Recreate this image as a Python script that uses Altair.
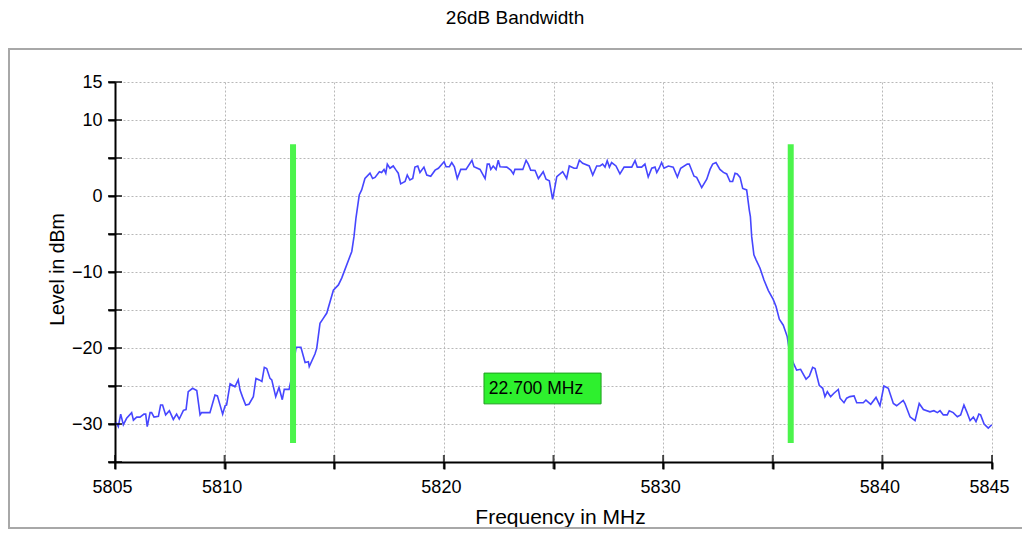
import altair as alt
import pandas as pd

# ---- data ----
freq_mhz = [
    5805.05, 5805.15, 5805.26, 5805.38, 5805.53, 5805.76, 5805.84, 5805.99, 5806.14, 5806.32,
    5806.40, 5806.47, 5806.60, 5806.67, 5806.78, 5806.98, 5807.08, 5807.17, 5807.31, 5807.48,
    5807.66, 5807.81, 5807.93, 5808.12, 5808.24, 5808.34, 5808.54, 5808.73, 5808.88, 5808.95,
    5809.33, 5809.56, 5809.67, 5809.91, 5810.02, 5810.09, 5810.25, 5810.47, 5810.62, 5810.70,
    5810.81, 5810.96, 5811.11, 5811.31, 5811.43, 5811.58, 5811.70, 5811.81, 5811.92, 5812.07,
    5812.15, 5812.33, 5812.48, 5812.63, 5812.72, 5812.94, 5813.06, 5813.26, 5813.48, 5813.67,
    5813.82, 5813.86, 5814.12, 5814.20, 5814.35, 5814.50, 5814.66, 5814.96, 5815.19, 5815.34,
    5815.80, 5815.90, 5815.99, 5816.14, 5816.25, 5816.40, 5816.63, 5816.75, 5816.86, 5817.06,
    5817.16, 5817.27, 5817.35, 5817.42, 5817.54, 5817.69, 5817.82, 5817.92, 5818.03, 5818.23,
    5818.33, 5818.45, 5818.58, 5818.68, 5818.81, 5818.91, 5819.09, 5819.22, 5819.40, 5819.60,
    5819.75, 5820.01, 5820.10, 5820.25, 5820.36, 5820.48, 5820.61, 5820.77, 5821.01, 5821.28,
    5821.37, 5821.65, 5821.88, 5821.98, 5822.07, 5822.14, 5822.25, 5822.38, 5822.48, 5822.56,
    5822.87, 5823.05, 5823.17, 5823.24, 5823.60, 5823.75, 5823.85, 5823.96, 5824.16, 5824.31,
    5824.53, 5824.66, 5824.81, 5824.96, 5825.15, 5825.30, 5825.42, 5825.60, 5825.72, 5825.94,
    5826.06, 5826.18, 5826.33, 5826.63, 5826.79, 5826.97, 5827.12, 5827.24, 5827.35, 5827.45,
    5827.55, 5827.65, 5827.85, 5828.03, 5828.22, 5828.57, 5828.72, 5828.82, 5829.02, 5829.17,
    5829.32, 5829.48, 5829.63, 5829.71, 5829.82, 5829.93, 5830.04, 5830.24, 5830.46, 5830.65,
    5830.80, 5831.10, 5831.19, 5831.41, 5831.53, 5831.76, 5831.99, 5832.14, 5832.26, 5832.41,
    5832.59, 5832.75, 5832.90, 5833.05, 5833.17, 5833.28, 5833.38, 5833.51, 5833.63, 5833.81,
    5833.93, 5833.98, 5834.04, 5834.14, 5834.24, 5834.42, 5834.60, 5834.80, 5835.02, 5835.15,
    5835.30, 5835.48, 5835.66, 5835.75, 5835.94, 5836.09, 5836.27, 5836.52, 5836.67, 5836.82,
    5836.93, 5837.12, 5837.28, 5837.38, 5837.49, 5837.64, 5837.79, 5837.99, 5838.07, 5838.25,
    5838.37, 5838.52, 5838.71, 5838.83, 5839.13, 5839.25, 5839.47, 5839.71, 5839.89, 5840.07,
    5840.27, 5840.50, 5840.65, 5840.95, 5841.03, 5841.26, 5841.49, 5841.68, 5841.87, 5842.17,
    5842.35, 5842.51, 5842.63, 5842.78, 5842.96, 5843.05, 5843.23, 5843.42, 5843.57, 5843.72,
    5843.85, 5844.00, 5844.15, 5844.27, 5844.40, 5844.48, 5844.64, 5844.83, 5844.99,
]
level_dbm = [
    -29.8, -30.35, -28.7, -30.1, -29.25, -28.5, -29.5, -29.1, -29.1, -28.7,
    -28.7, -30.35, -28.5, -28.5, -29.1, -29.0, -27.5, -27.5, -28.8, -28.25,
    -29.4, -28.7, -29.35, -28.2, -28.1, -25.75, -25.3, -25.6, -28.8, -28.5,
    -28.5, -26.2, -26.3, -28.7, -27.6, -27.5, -24.7, -25.1, -24.2, -25.5,
    -26.4, -27.5, -27.4, -26.4, -24.0, -24.2, -24.4, -22.55, -22.7, -24.0,
    -24.2, -26.4, -25.2, -26.8, -25.45, -25.45, -23.8, -19.9, -19.9, -21.9,
    -21.8, -22.45, -20.8, -20.05, -16.75, -16.1, -15.4, -12.4, -11.7, -10.8,
    -7.3, -5.35, -2.9, 0.13, 0.8, 2.3, 3.0, 2.3, 2.45, 3.2,
    3.1, 3.5, 3.0, 4.2, 3.65, 3.95, 3.4, 3.0, 1.6, 1.9,
    2.75, 2.1, 2.3, 3.8, 3.95, 3.1, 3.8, 2.75, 2.6, 3.4,
    3.65, 4.5, 3.85, 3.85, 4.4, 3.85, 2.3, 3.5, 3.5, 4.7,
    3.85, 3.5, 2.3, 4.2, 4.2, 3.5, 3.95, 3.5, 4.7, 3.85,
    3.8, 3.4, 2.9, 3.5, 3.5, 4.7, 4.2, 3.4, 3.35, 2.3,
    3.2, 2.2, 2.0, -0.45, 2.55, 2.9, 3.2, 2.3, 3.95, 3.65,
    3.65, 4.7, 4.3, 3.95, 2.75, 3.95, 3.95, 4.2, 3.8, 4.65,
    3.8, 4.4, 3.95, 2.9, 3.8, 3.8, 4.65, 3.8, 3.8, 4.2,
    2.5, 3.65, 3.8, 3.1, 3.65, 4.4, 3.65, 3.95, 3.8, 2.5,
    3.65, 4.2, 4.2, 2.6, 2.45, 1.1, 2.2, 3.5, 4.2, 4.4,
    3.5, 3.1, 2.9, 1.9, 1.9, 3.0, 2.9, 2.45, 1.0, 0.8,
    -1.85, -2.7, -5.35, -7.75, -8.4, -9.5, -11.05, -12.45, -13.6, -14.55,
    -16.2, -17.0, -18.5, -20.25, -22.0, -22.9, -22.8, -24.1, -23.7, -22.55,
    -22.7, -24.9, -25.3, -26.4, -25.75, -26.4, -25.95, -25.45, -26.6, -27.2,
    -26.6, -26.4, -26.3, -27.2, -27.2, -26.85, -27.4, -26.5, -27.6, -25.0,
    -25.3, -27.3, -27.6, -26.9, -27.3, -29.05, -29.55, -27.3, -28.1, -28.4,
    -28.25, -28.5, -28.25, -28.8, -28.8, -28.25, -28.5, -29.05, -28.8, -27.5,
    -28.4, -29.55, -29.1, -29.7, -28.7, -28.8, -30.0, -30.55, -30.1,
]

marker_freqs = [5813.12, 5835.82]
marker_top = [6.8, 6.8]
marker_bottom = [-32.5, -32.5]

bandwidth_text = ["22.700 MHz"]
label_box_f = [5821.83]
label_box_f2 = [5827.17]
label_box_top = [-23.3]
label_box_bottom = [-27.35]
label_text_f = [5822.05]
label_text_level = [-25.33]

x_tick_values = [5805, 5810, 5815, 5820, 5825, 5830, 5835, 5840, 5845]
x_label_values = [5805, 5810, 5820, 5830, 5840, 5845]
y_tick_values = [15, 10, 5, 0, -5, -10, -15, -20, -25, -30, -35]
y_label_values = [15, 10, 0, -10, -20, -30]

title_text = "26dB Bandwidth"
x_title = "Frequency in MHz"
y_title = "Level in dBm"

# ---- layout ----
W, H = 877, 380
FONT = "Liberation Sans, Arial, sans-serif"

trace = pd.DataFrame({"f": freq_mhz, "L": level_dbm})
markers = pd.DataFrame({"f": marker_freqs, "top": marker_top, "bot": marker_bottom})
box = pd.DataFrame({"f": label_box_f, "f2": label_box_f2, "t": label_box_top, "b": label_box_bottom})
lbl = pd.DataFrame({"f": label_text_f, "L": label_text_level, "txt": bandwidth_text})
xt = pd.DataFrame({"f": x_tick_values})
yt = pd.DataFrame({"L": y_tick_values})

x_scale = alt.Scale(domain=[5805, 5845], nice=False, zero=False)
y_scale = alt.Scale(domain=[-35, 15], nice=False, zero=False)

x_expr = "indexof([" + ",".join(str(v) for v in x_label_values) + "], datum.value) >= 0 ? datum.label : ''"
y_expr = "indexof([" + ",".join(str(v) for v in y_label_values) + "], datum.value) >= 0 ? datum.label : ''"

x_axis = alt.Axis(
    values=x_tick_values, labelExpr=x_expr, format="d", title=x_title,
    grid=True, gridColor="#b8b8b8", gridDash=[2, 2], gridWidth=1,
    domainColor="black", domainWidth=2, tickColor="black", tickWidth=2, tickSize=7,
    labelFont=FONT, labelFontSize=18, labelColor="black", labelPadding=9, labelOffset=-3,
    labelFlush=False, labelOverlap=False,
    titleFont=FONT, titleFontSize=21, titleFontWeight="normal", titleColor="black",
    titleX=445, titleY=55, titleBaseline="middle", titleAlign="center",
)
y_axis = alt.Axis(
    values=y_tick_values, labelExpr=y_expr, format="d", title=y_title,
    grid=True, gridColor="#b8b8b8", gridDash=[2, 2], gridWidth=1,
    domainColor="black", domainWidth=2, tickColor="black", tickWidth=2, tickSize=7,
    labelFont=FONT, labelFontSize=18, labelColor="black", labelPadding=6,
    labelFlush=False, labelOverlap=False, labelBound=False,
    titleFont=FONT, titleFontSize=19.5, titleFontWeight="normal", titleColor="black",
    titleX=-58, titleY=187, titleBaseline="middle", titleAlign="center", titleAngle=-90,
)

base_line = alt.Chart(trace).mark_line(color="#4646ff", strokeWidth=1.6).encode(
    x=alt.X("f:Q", scale=x_scale, axis=x_axis),
    y=alt.Y("L:Q", scale=y_scale, axis=y_axis),
)

frame = alt.Chart(trace).mark_rect(
    fill=None, fillOpacity=0, stroke="#a8a8a8", strokeWidth=2
).encode(
    x=alt.value(-106), x2=alt.value(W + 60), y=alt.value(-33), y2=alt.value(H + 66)
).transform_filter("datum.f < 5805.1")

title = alt.Chart(trace).mark_text(
    text=title_text, font=FONT, fontSize=19, color="black", align="center", baseline="middle"
).encode(x=alt.value(400), y=alt.value(-64)).transform_filter("datum.f < 5805.1")

rules = alt.Chart(markers).mark_rule(color="#4cf44c", strokeWidth=6).encode(
    x=alt.X("f:Q", axis=None), y=alt.Y("top:Q", axis=None), y2="bot:Q"
)

xticks = alt.Chart(xt).mark_tick(orient="vertical", size=14, thickness=2, color="black").encode(
    x=alt.X("f:Q", axis=None), y=alt.YDatum(-35, axis=None)
)
yticks = alt.Chart(yt).mark_tick(orient="horizontal", size=14, thickness=2, color="black").encode(
    y=alt.Y("L:Q", axis=None), x=alt.XDatum(5805, axis=None)
)

rect = alt.Chart(box).mark_rect(fill="#2ef02e", stroke="#1f9f1f", strokeWidth=1).encode(
    x=alt.X("f:Q", axis=None), x2="f2:Q", y=alt.Y("t:Q", axis=None), y2="b:Q"
)
text = alt.Chart(lbl).mark_text(
    font=FONT, fontSize=17.5, color="black", align="left", baseline="middle"
).encode(x=alt.X("f:Q", axis=None), y=alt.Y("L:Q", axis=None), text="txt:N")

chart = alt.layer(base_line, frame, title, rules, xticks, yticks, rect, text).resolve_axis(
    x="independent", y="independent"
).properties(
    width=W, height=H,
    autosize=alt.AutoSizeParams(type="none"),
    padding={"left": 107, "top": 74, "right": 30, "bottom": 68},
    background="white",
).configure_view(strokeWidth=0).configure_axis(labelOverlap=False)

chart.save("out.html", embed_options={"renderer": "svg", "actions": False})
